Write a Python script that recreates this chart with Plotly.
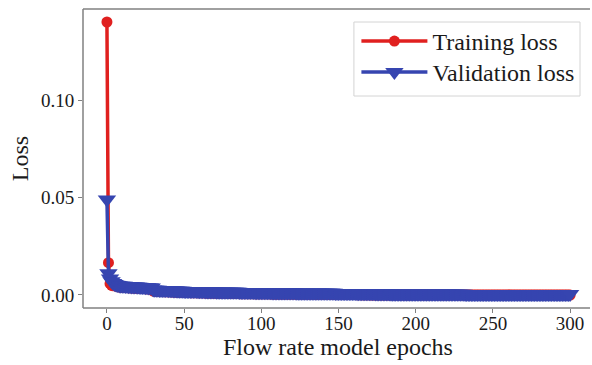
import plotly.graph_objects as go

epochs = list(range(0, 301))

train_loss = [
    0.1400, 0.0166, 0.0058, 0.0050, 0.0047, 0.0049, 0.0045, 0.0043, 0.0041, 0.0040,
    0.0039, 0.0039, 0.0038, 0.0038, 0.0037, 0.0037, 0.0036, 0.0036, 0.0035, 0.0035,
    0.0034, 0.0034, 0.0033, 0.0033, 0.0033, 0.0032, 0.0032, 0.0031, 0.0031, 0.0030,
    0.0020, 0.0019, 0.0019, 0.0019, 0.0018, 0.0018, 0.0018, 0.0017, 0.0017, 0.0017,
    0.0016, 0.0016, 0.0016, 0.0015, 0.0015, 0.0015, 0.0014, 0.0014, 0.0014, 0.0014,
    0.0013, 0.0013, 0.0013, 0.0013, 0.0012, 0.0012, 0.0012, 0.0012, 0.0012, 0.0011,
    0.0011, 0.0011, 0.0011, 0.0011, 0.0010, 0.0010, 0.0010, 0.0010, 0.0010, 0.0010,
    0.0010, 0.0009, 0.0009, 0.0009, 0.0009, 0.0009, 0.0009, 0.0009, 0.0008, 0.0008,
    0.0008, 0.0008, 0.0008, 0.0008, 0.0008, 0.0008, 0.0007, 0.0007, 0.0007, 0.0007,
    0.0007, 0.0007, 0.0007, 0.0007, 0.0007, 0.0007, 0.0006, 0.0006, 0.0006, 0.0006,
    0.0006, 0.0006, 0.0006, 0.0006, 0.0006, 0.0006, 0.0006, 0.0005, 0.0005, 0.0005,
    0.0005, 0.0005, 0.0005, 0.0005, 0.0005, 0.0005, 0.0005, 0.0005, 0.0005, 0.0005,
    0.0005, 0.0005, 0.0005, 0.0004, 0.0004, 0.0004, 0.0004, 0.0004, 0.0004, 0.0004,
    0.0004, 0.0004, 0.0004, 0.0004, 0.0004, 0.0003, 0.0003, 0.0003, 0.0003, 0.0003,
    0.0003, 0.0003, 0.0003, 0.0003, 0.0003, 0.0003, 0.0003, 0.0003, 0.0002, 0.0002,
    0.0002, 0.0002, 0.0002, 0.0002, 0.0002, 0.0002, 0.0002, 0.0002, 0.0002, 0.0002,
    0.0002, 0.0002, 0.00015, 0.00015, 0.00015, 0.0001, 0.0001, 0.0001, 0.0001, 0.0001,
    0.00008, 0.00006, 0.00005, 0.00005, 0.00005, 0.00005, 0.00005, 0.00005, 0.00005, 0.00005,
    0.00005, 0.00005, 0.00005, 0.00005, 0.00005, 0.00005, 0.00005, 0.00005, 0.00005, 0.00005,
    0.00005, 0.00005, 0.00005, 0.00005, 0.00005, 0.00005, 0.00005, 0.00005, 0.00005, 0.00005,
    0.00005, 0.00005, 0.00005, 0.00005, 0.00005, 0.00005, 0.00005, 0.00005, 0.00005, 0.00005,
    0.00005, 0.00005, 0.00005, 0.00005, 0.00005, 0.00005, 0.00005, 0.00005, 0.00005, 0.00005,
    0.00005, 0.00005, 0.00005, 0.00005, 0.00005, 0.00005, 0.00005, 0.00005, 0.00005, 0.00005,
    0.00005, 0.00005, 0.00005, 0.00005, 0.00005, 0.00005, 0.00005, 0.00005, 0.00005, 0.00005,
    0.00005, 0.00005, 0.00005, 0.00005, 0.00005, 0.00005, 0.00005, 0.00005, 0.00005, 0.00005,
    0.00005, 0.00005, 0.00005, 0.00005, 0.00005, 0.00005, 0.00005, 0.00005, 0.00005, 0.00005,
    0.00005, 0.00005, 0.00005, 0.00005, 0.00005, 0.00005, 0.00005, 0.00005, 0.00005, 0.00005,
    0.00005, 0.00005, 0.00005, 0.00005, 0.00005, 0.00005, 0.00005, 0.00005, 0.00005, 0.00005,
    0.00005, 0.00005, 0.00005, 0.00005, 0.00005, 0.00005, 0.00005, 0.00005, 0.00005, 0.00005,
    0.00005, 0.00005, 0.00005, 0.00005, 0.00005, 0.00005, 0.00005, 0.00005, 0.00005, 0.00005,
    0.00000,
]

val_loss = [
    0.0490, 0.0112, 0.0085, 0.0070, 0.0062, 0.0057, 0.0053, 0.0051, 0.0049, 0.0048,
    0.0047, 0.0047, 0.0046, 0.0046, 0.0045, 0.0045, 0.0044, 0.0044, 0.0043, 0.0043,
    0.0042, 0.0042, 0.0041, 0.0041, 0.0041, 0.0040, 0.0040, 0.0039, 0.0039, 0.0038,
    0.0028, 0.0027, 0.0027, 0.0027, 0.0026, 0.0026, 0.0026, 0.0025, 0.0025, 0.0025,
    0.0024, 0.0024, 0.0024, 0.0023, 0.0023, 0.0023, 0.0022, 0.0022, 0.0022, 0.0022,
    0.0021, 0.0021, 0.0021, 0.0021, 0.0020, 0.0020, 0.0020, 0.0020, 0.0020, 0.0019,
    0.0019, 0.0019, 0.0019, 0.0019, 0.0018, 0.0018, 0.0018, 0.0018, 0.0018, 0.0018,
    0.0018, 0.0017, 0.0017, 0.0017, 0.0017, 0.0017, 0.0017, 0.0017, 0.0016, 0.0016,
    0.0016, 0.0016, 0.0016, 0.0016, 0.0016, 0.0016, 0.0015, 0.0015, 0.0015, 0.0015,
    0.0015, 0.0015, 0.0015, 0.0015, 0.0015, 0.0015, 0.0014, 0.0014, 0.0014, 0.0014,
    0.0014, 0.0014, 0.0014, 0.0014, 0.0014, 0.0014, 0.0014, 0.0013, 0.0013, 0.0013,
    0.0013, 0.0013, 0.0013, 0.0013, 0.0013, 0.0013, 0.0013, 0.0013, 0.0013, 0.0013,
    0.0013, 0.0013, 0.0013, 0.0012, 0.0012, 0.0012, 0.0012, 0.0012, 0.0012, 0.0012,
    0.0012, 0.0012, 0.0012, 0.0012, 0.0012, 0.0011, 0.0011, 0.0011, 0.0011, 0.0011,
    0.0011, 0.0011, 0.0011, 0.0011, 0.0011, 0.0011, 0.0011, 0.0011, 0.0010, 0.0010,
    0.0010, 0.0010, 0.0010, 0.0010, 0.0010, 0.0010, 0.0010, 0.0010, 0.0010, 0.0010,
    0.0010, 0.0010, 0.00095, 0.00095, 0.00095, 0.00090, 0.00090, 0.00090, 0.00090, 0.00090,
    0.00088, 0.00086, 0.00085, 0.00084, 0.00082, 0.00080, 0.00079, 0.00078, 0.00076, 0.00075,
    0.00074, 0.00073, 0.00072, 0.00071, 0.00070, 0.00069, 0.00068, 0.00067, 0.00066, 0.00066,
    0.00065, 0.00065, 0.00064, 0.00064, 0.00063, 0.00063, 0.00062, 0.00062, 0.00061, 0.00061,
    0.00060, 0.00060, 0.00060, 0.00060, 0.00060, 0.00060, 0.00060, 0.00060, 0.00060, 0.00060,
    0.00060, 0.00060, 0.00060, 0.00060, 0.00059, 0.00059, 0.00059, 0.00059, 0.00059, 0.00059,
    0.00059, 0.00059, 0.00059, 0.00058, 0.00058, 0.00058, 0.00058, 0.00058, 0.00058, 0.00058,
    0.00058, 0.00058, 0.00057, 0.00057, 0.00057, 0.00057, 0.00057, 0.00057, 0.00057, 0.00057,
    0.00057, 0.00057, 0.00057, 0.00056, 0.00056, 0.00056, 0.00056, 0.00056, 0.00056, 0.00056,
    0.00056, 0.00056, 0.00055, 0.00055, 0.00055, 0.00055, 0.00055, 0.00055, 0.00055, 0.00055,
    0.00055, 0.00055, 0.00055, 0.00055, 0.00054, 0.00054, 0.00054, 0.00054, 0.00054, 0.00054,
    0.00054, 0.00054, 0.00054, 0.00054, 0.00053, 0.00053, 0.00053, 0.00053, 0.00053, 0.00053,
    0.00053, 0.00053, 0.00053, 0.00053, 0.00053, 0.00052, 0.00052, 0.00052, 0.00052, 0.00052,
    0.00052, 0.00052, 0.00052, 0.00052, 0.00052, 0.00051, 0.00051, 0.00051, 0.00051, 0.00051,
    0.00050,
]

x_ticks = [0, 50, 100, 150, 200, 250, 300]
y_ticks = [0.00, 0.05, 0.10]
y_tick_labels = ["0.00", "0.05", "0.10"]

RED = "#e0201f"
BLUE = "#3645b0"
FONT = "Liberation Serif, Times New Roman, serif"
AXIS = "#808080"
TXT = "#1a1a1a"

fig = go.Figure()
fig.add_trace(go.Scatter(
    x=epochs, y=train_loss, name="Training loss", mode="lines+markers",
    line=dict(color=RED, width=3.5),
    marker=dict(symbol="circle", size=11, color=RED),
    legend="legend",
))
fig.add_trace(go.Scatter(
    x=epochs, y=val_loss, name="Validation loss", mode="lines+markers",
    line=dict(color=BLUE, width=3.5),
    marker=dict(symbol="triangle-down", size=16, color=BLUE),
    legend="legend2",
))

# plot area: x 83..584 px (paper beyond to 592), y 9..308 px
PW = 501.0
leg_common = dict(
    x=(357.5 - 83) / PW, xanchor="left", yanchor="top",
    bgcolor="rgba(0,0,0,0)", borderwidth=0,
    font=dict(family=FONT, size=24, color=TXT),
    itemwidth=66,
)

spine = dict(color=AXIS, width=1.5)

fig.update_layout(
    width=592, height=365,
    margin=dict(l=83, r=8, t=9, b=57),
    paper_bgcolor="white", plot_bgcolor="white",
    font=dict(family=FONT, size=20, color=TXT),
    showlegend=True,
    legend=dict(y=0.9667, **leg_common),
    legend2=dict(y=0.8629, **leg_common),
    xaxis=dict(
        range=[-15.5, 307.7], tickvals=x_ticks,
        ticks="outside", ticklen=4, tickwidth=1.2, tickcolor=AXIS,
        showline=False, showgrid=False, zeroline=False, ticklabelstandoff=-6,
        tickfont=dict(family=FONT, size=19, color=TXT),
    ),
    yaxis=dict(
        range=[-0.00667, 0.14667], tickvals=y_ticks, ticktext=y_tick_labels,
        ticks="outside", ticklen=4, tickwidth=1.2, tickcolor=AXIS,
        showline=False, showgrid=False, zeroline=False,
        tickfont=dict(family=FONT, size=19, color=TXT),
        title=dict(text="Loss", standoff=5,
                   font=dict(family=FONT, size=24, color=TXT)),
    ),
    shapes=[
        dict(type="line", xref="paper", yref="paper", x0=0, x1=1.016, y0=1, y1=1,
             line=spine, layer="above"),
        dict(type="line", xref="paper", yref="paper", x0=0, x1=1.016, y0=0, y1=0,
             line=spine, layer="above"),
        dict(type="line", xref="paper", yref="paper", x0=0, x1=0, y0=0, y1=1,
             line=spine, layer="above"),
        dict(type="rect", xref="paper", yref="paper",
             x0=(355 - 83) / PW, x1=(582 - 83) / PW, y0=0.709, y1=0.9565,
             fillcolor="white", line=dict(color="#d4d4d4", width=1), layer="below"),
    ],
    annotations=[dict(text="Flow rate model epochs", xref="paper", yref="paper",
                      x=(339 - 83) / PW, y=0, yshift=-24, xanchor="center", yanchor="top",
                      showarrow=False, font=dict(family=FONT, size=24, color=TXT))],
)

fig.write_html("out.html")
